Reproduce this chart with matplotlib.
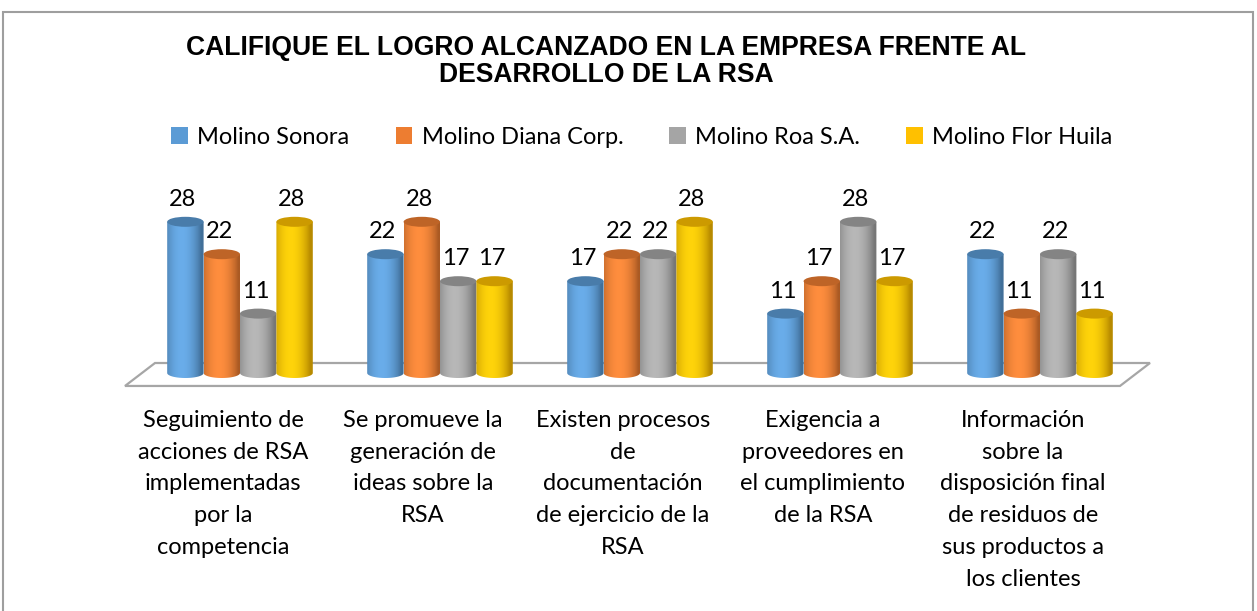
import numpy as np
import matplotlib
matplotlib.use("Agg")
import matplotlib.pyplot as plt
from matplotlib.patches import Ellipse, Polygon, Rectangle, Patch
from matplotlib.colors import to_rgb
import matplotlib.transforms as mtransforms

# ---------------- data ----------------
title = "CALIFIQUE EL LOGRO ALCANZADO EN LA EMPRESA FRENTE AL\nDESARROLLO DE LA RSA"
categories = [
    "Seguimiento de\nacciones de RSA\nimplementadas\npor la\ncompetencia",
    "Se promueve la\ngeneración de\nideas sobre la\nRSA",
    "Existen procesos\nde\ndocumentación\nde ejercicio de la\nRSA",
    "Exigencia a\nproveedores en\nel cumplimiento\nde la RSA",
    "Información\nsobre la\ndisposición final\nde residuos de\nsus productos a\nlos clientes",
]
series_names = ["Molino Sonora", "Molino Diana Corp.", "Molino Roa S.A.", "Molino Flor Huila"]
molino_sonora = [28, 22, 17, 11, 22]
molino_diana = [22, 28, 22, 17, 11]
molino_roa = [11, 17, 22, 28, 22]
molino_flor = [28, 17, 28, 17, 11]
series_values = [molino_sonora, molino_diana, molino_roa, molino_flor]
colors = ["#5B9BD5", "#ED7D31", "#A5A5A5", "#FFC000"]

W, H = 1257, 611
FONT = "Lato"
FS = 17

fig = plt.figure(figsize=(W / 100, H / 100), dpi=100)
fig.patch.set_facecolor("white")

# chart frame
frame = Rectangle((3 / W, -0.05), (1253 - 3) / W, 1.05 - 12 / H, transform=fig.transFigure,
                  fill=False, edgecolor="#9E9E9E", linewidth=1.5)
fig.patches.append(frame)

px_y = 5.4                 # pixels per data unit (y)
ymin, ymax = -4, 40
ax = fig.add_axes([140 / W, (H - 373 - (-ymin) * px_y) / H, 1000 / W, (ymax - ymin) * px_y / H])
ax.set_xlim(-0.5, len(categories) - 0.5)
ax.set_ylim(ymin, ymax)
ax.axis("off")

ell_h = 10 / px_y          # ellipse height in data units
bw = 0.182                 # bar width in category units

# floor (decoration)
floor = Polygon([(-0.425, 1.85), (4.55, 1.85), (4.40, -2.4), (-0.575, -2.4)],
                closed=True, facecolor="white", edgecolor="#A6A6A6", linewidth=1.6,
                clip_on=False, zorder=1)
ax.add_patch(floor)


def shade_row(base, n=64):
    b = np.array(to_rgb(base))
    t = np.linspace(0, 1, n)
    s = np.clip(np.cos((t - 0.40) * np.pi * 0.95), 0, 1) ** 0.8
    dark = b * 0.72
    light = np.clip(b * 1.05 + 0.04, 0, 1)
    row = dark[None, :] * (1 - s[:, None]) + light[None, :] * s[:, None]
    return row[None, :, :]


zo = 2
for i in range(len(categories)):
    for j, vals in enumerate(series_values):
        v = vals[i]
        xc = i + (j - 1.5) * bw
        x0, x1 = xc - bw / 2, xc + bw / 2
        ang = np.linspace(np.pi, 2 * np.pi, 60)
        bottom = np.column_stack([xc + bw / 2 * np.cos(ang), 0 + ell_h / 2 * np.sin(ang)])
        pts = np.vstack([bottom, [[x1, v], [x0, v]]])
        clip = Polygon(pts, closed=True, transform=ax.transData, facecolor="none", edgecolor="none")
        ax.add_patch(clip)
        im = ax.imshow(shade_row(colors[j]), extent=(x0, x1, -ell_h / 2, v),
                       aspect="auto", interpolation="bilinear", zorder=zo)
        im.set_clip_path(clip)
        top_col = np.array(to_rgb(colors[j])) * 0.80
        top = Ellipse((xc, v), bw, ell_h, facecolor=top_col, edgecolor="none",
                      zorder=zo + 0.5, clip_on=False)
        ax.add_patch(top)
        zo += 1
        ax.annotate(str(v), xy=(xc, v), xytext=(-2, 11.5), textcoords="offset points",
                    ha="center", va="baseline", fontsize=FS, family=FONT,
                    color="black", annotation_clip=False, zorder=100)

ax.set_xlim(-0.5, len(categories) - 0.5)
ax.set_ylim(ymin, ymax)

# category labels
trans = mtransforms.blended_transform_factory(ax.transData, fig.transFigure)
for i, lab in enumerate(categories):
    ax.text(i - 17 / 200, 1 - 410 / H, lab, transform=trans, ha="center", va="top",
            multialignment="center", fontsize=FS, family=FONT, linespacing=1.63,
            clip_on=False)

# title
fig.text(606 / W, 1 - 35 / H, title, ha="center", va="top", fontsize=19.1,
         fontweight="bold", family="Liberation Sans", linespacing=1.06)

# legend
handles = [Patch(facecolor=c, edgecolor="none") for c in colors]
fig.legend(handles, series_names, loc="center", bbox_to_anchor=(642 / W, 1 - 137 / H),
           ncol=4, frameon=False, handlelength=0.7, handleheight=0.7,
           handletextpad=0.4, columnspacing=1.95, prop={"family": FONT, "size": FS})

fig.savefig("out.png", dpi=100, facecolor="white")
